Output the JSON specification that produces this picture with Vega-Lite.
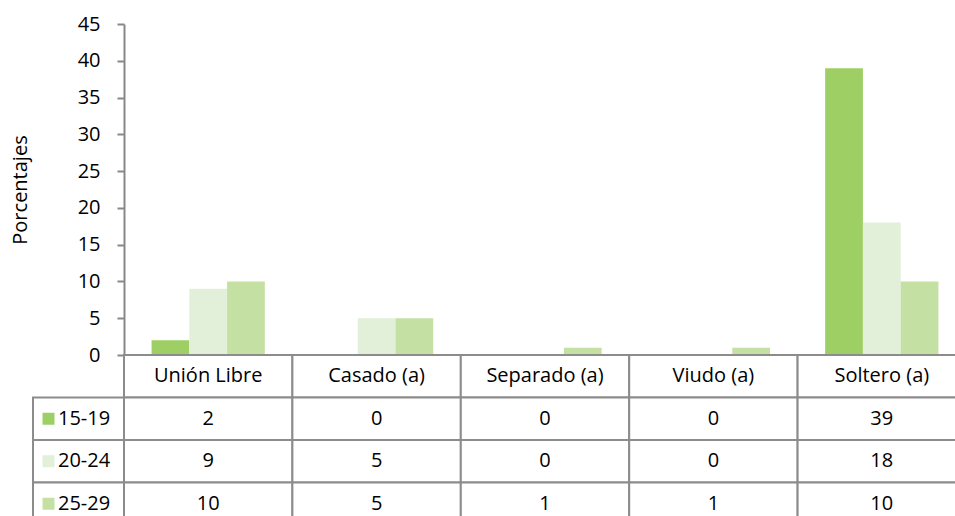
{
  "$schema": "https://vega.github.io/schema/vega-lite/v6.json",
  "width": 842,
  "height": 492,
  "autosize": {"type": "none"},
  "padding": {"left": 124, "top": 24, "right": -11, "bottom": 0},
  "background": "white",
  "config": {"view": {"stroke": null}, "font": "Open Sans"},
  "datasets": {
    "data": [
      {"estado": "Unión Libre", "edad": "15-19", "pct": 2},
      {"estado": "Unión Libre", "edad": "20-24", "pct": 9},
      {"estado": "Unión Libre", "edad": "25-29", "pct": 10},
      {"estado": "Casado (a)", "edad": "15-19", "pct": 0},
      {"estado": "Casado (a)", "edad": "20-24", "pct": 5},
      {"estado": "Casado (a)", "edad": "25-29", "pct": 5},
      {"estado": "Separado (a)", "edad": "15-19", "pct": 0},
      {"estado": "Separado (a)", "edad": "20-24", "pct": 0},
      {"estado": "Separado (a)", "edad": "25-29", "pct": 1},
      {"estado": "Viudo (a)", "edad": "15-19", "pct": 0},
      {"estado": "Viudo (a)", "edad": "20-24", "pct": 0},
      {"estado": "Viudo (a)", "edad": "25-29", "pct": 1},
      {"estado": "Soltero (a)", "edad": "15-19", "pct": 39},
      {"estado": "Soltero (a)", "edad": "20-24", "pct": 18},
      {"estado": "Soltero (a)", "edad": "25-29", "pct": 10}
    ]
  },
  "data": {"name": "data"},
  "layer": [
    {
      "mark": {"type": "bar"},
      "encoding": {
        "x": {"field": "estado", "type": "nominal", "scale": {"domain": ["Unión Libre", "Casado (a)", "Separado (a)", "Viudo (a)", "Soltero (a)"], "paddingInner": 0, "paddingOuter": 0}, "axis": null},
        "xOffset": {"field": "edad", "type": "nominal", "scale": {"domain": ["15-19", "20-24", "25-29"], "paddingInner": 0, "paddingOuter": 0.73}},
        "y": {"field": "pct", "type": "quantitative", "scale": {"domain": [0, 45], "range": [331, 0], "nice": false},
          "axis": {"values": [0, 5, 10, 15, 20, 25, 30, 35, 40, 45], "grid": false, "domainColor": "#888888", "domainWidth": 2, "tickColor": "#888888", "tickWidth": 2, "tickSize": 7, "labelFontSize": 20, "labelColor": "#000000", "labelPadding": 17, "title": "Porcentajes", "titleFontSize": 20, "titleFontWeight": "normal", "titleColor": "#000000", "titlePadding": 47}},
        "color": {"field": "edad", "type": "nominal", "scale": {"domain": ["15-19", "20-24", "25-29"], "range": ["#9ecf64", "#e2efd9", "#c5e0a3"]}, "legend": null}
      }
    },
    {
      "layer": [
        {
          "transform": [{"filter": "datum.edad === '15-19'"}],
          "mark": {"type": "rect", "fill": "white", "stroke": "#8c8c8c", "strokeWidth": 2},
          "encoding": {
            "x": {"field": "estado", "type": "nominal", "scale": {"domain": ["Unión Libre", "Casado (a)", "Separado (a)", "Viudo (a)", "Soltero (a)"], "paddingInner": 0, "paddingOuter": 0}, "axis": null},
            "y": {"datum": "header", "type": "nominal", "scale": {"domain": ["header", "15-19", "20-24", "25-29"], "range": [331, 501], "paddingInner": 0, "paddingOuter": 0}, "axis": null}
          }
        },
        {
          "transform": [{"filter": "datum.edad === '15-19'"}],
          "mark": {"type": "text", "fontSize": 20, "color": "#000000", "baseline": "middle"},
          "encoding": {
            "x": {"field": "estado", "type": "nominal"},
            "y": {"datum": "header", "type": "nominal"},
            "text": {"field": "estado"}
          }
        },
        {
          "mark": {"type": "rect", "fill": "white", "stroke": "#8c8c8c", "strokeWidth": 2},
          "encoding": {
            "x": {"field": "estado", "type": "nominal"},
            "y": {"field": "edad", "type": "nominal"}
          }
        },
        {
          "mark": {"type": "text", "fontSize": 20, "color": "#000000", "baseline": "middle"},
          "encoding": {
            "x": {"field": "estado", "type": "nominal"},
            "y": {"field": "edad", "type": "nominal"},
            "text": {"field": "pct"}
          }
        }
      ]
    },
    {
      "transform": [{"filter": "datum.estado === 'Unión Libre'"}],
      "layer": [
        {
          "mark": {"type": "rect", "fill": "white", "stroke": "#8c8c8c", "strokeWidth": 2},
          "encoding": {
            "x": {"datum": 0, "type": "quantitative", "scale": {"domain": [0, 91], "range": [-91, 0], "nice": false, "zero": false}, "axis": null},
            "x2": {"datum": 91},
            "y": {"field": "edad", "type": "nominal", "scale": {"domain": ["header", "15-19", "20-24", "25-29"], "range": [331, 501], "paddingInner": 0, "paddingOuter": 0}, "axis": null}
          }
        },
        {
          "mark": {"type": "point", "shape": "square", "filled": true, "size": 144, "opacity": 1},
          "encoding": {
            "x": {"datum": 15.5, "type": "quantitative"},
            "y": {"field": "edad", "type": "nominal"},
            "color": {"field": "edad", "type": "nominal", "scale": {"domain": ["15-19", "20-24", "25-29"], "range": ["#9ecf64", "#e2efd9", "#c5e0a3"]}, "legend": null}
          }
        },
        {
          "mark": {"type": "text", "fontSize": 20, "color": "#000000", "align": "left", "baseline": "middle"},
          "encoding": {
            "x": {"datum": 25, "type": "quantitative"},
            "y": {"field": "edad", "type": "nominal"},
            "text": {"field": "edad"}
          }
        }
      ]
    }
  ],
  "resolve": {"scale": {"x": "independent", "y": "independent", "color": "independent"}}
}
